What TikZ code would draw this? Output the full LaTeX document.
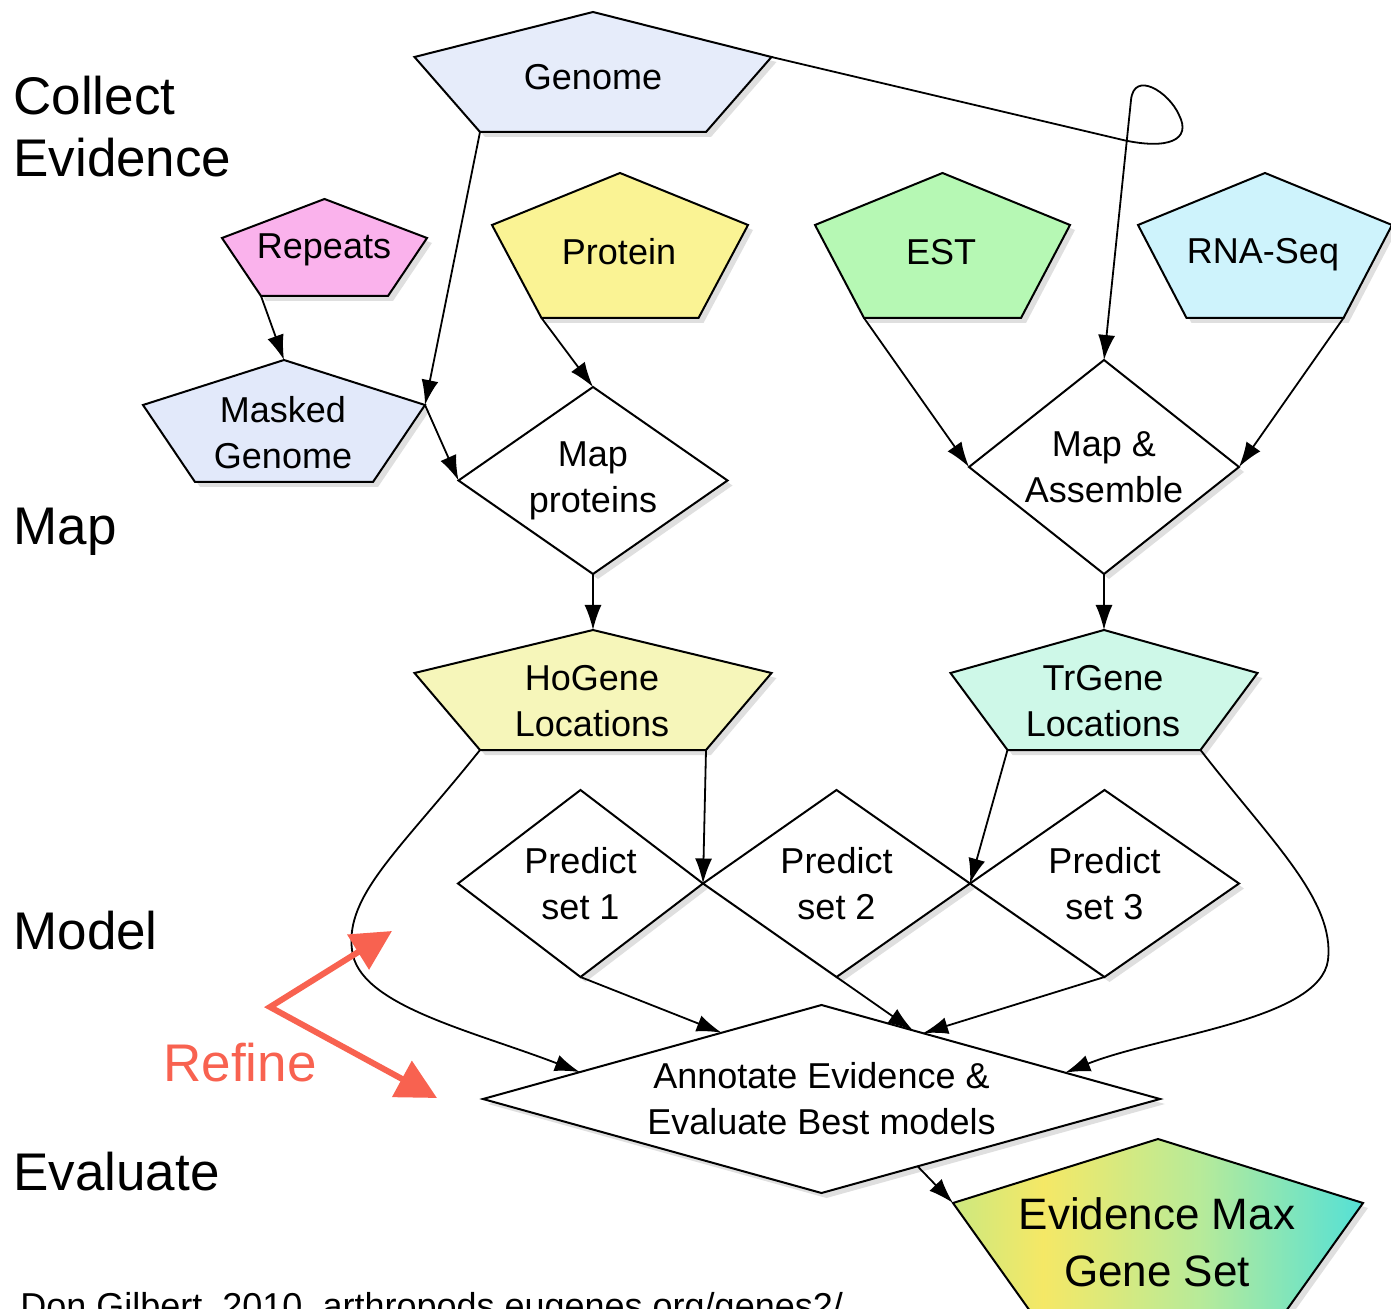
\documentclass[tikz,border=0pt]{standalone}
\usepackage{fontspec}
\setmainfont{Liberation Sans}
\usetikzlibrary{shapes.geometric,arrows.meta,calc,shadows}

\definecolor{genomeblue}{RGB}{230,236,250}
\definecolor{maskedblue}{RGB}{226,233,250}
\definecolor{repeatspink}{RGB}{250,178,236}
\definecolor{proteinyellow}{RGB}{250,243,148}
\definecolor{estgreen}{RGB}{182,248,180}
\definecolor{rnacyan}{RGB}{206,243,252}
\definecolor{hogeneyellow}{RGB}{246,246,186}
\definecolor{trgenemint}{RGB}{206,248,232}
\definecolor{refinered}{RGB}{248,98,80}

\pgfdeclarehorizontalshading{evmaxshade}{100bp}{rgb(0bp)=(0.80,0.91,0.50); rgb(25bp)=(0.80,0.91,0.50); rgb(36bp)=(0.96,0.91,0.40); rgb(55bp)=(0.72,0.92,0.60); rgb(75bp)=(0.33,0.88,0.84); rgb(100bp)=(0.33,0.88,0.84)}

\tikzset{PENT/.style={draw,line width=1pt,line join=miter,drop shadow={shadow xshift=2.5pt,shadow yshift=-2.5pt,opacity=0.25}}}
\tikzset{LABEL/.style={align=center,font=\fontsize{18}{23}\selectfont,inner sep=0pt}}
\tikzset{DECIDE/.style={diamond,draw,line width=1pt,fill=white,inner sep=0pt,outer sep=0pt,align=center,font=\fontsize{18}{23}\selectfont,drop shadow={shadow xshift=2.5pt,shadow yshift=-2.5pt,opacity=0.25}}}
\tikzset{ARROW/.style={line width=0.9pt,-{Latex[length=12.5pt,width=8.5pt]}}}
\tikzset{STAGE/.style={anchor=base west,inner sep=0pt,font=\fontsize{26.5}{31}\selectfont}}
\tikzset{REFINE/.style={refinered,line width=3pt,{Triangle[length=20pt,width=20pt]}-{Triangle[length=20pt,width=20pt]}}}

% name, fill, centre x, top y, shoulder y, shoulder half width, base y, base half width
\newcommand{\pentshape}[8]{%
  \coordinate (c_#1_t) at (#3,#4);
  \coordinate (c_#1_l) at ({#3-#6},#5);
  \coordinate (c_#1_r) at ({#3+#6},#5);
  \coordinate (c_#1_bl) at ({#3-#8},#7);
  \coordinate (c_#1_br) at ({#3+#8},#7);
  \filldraw[PENT,#2] (c_#1_t) -- (c_#1_r) -- (c_#1_br) -- (c_#1_bl) -- (c_#1_l) -- cycle;}

\begin{document}
\begin{tikzpicture}[x=0.5pt,y=-0.5pt]

\clip (0,0) rectangle (1391,1309);

% stages
\node[STAGE] (n_collect) at (13,115) {Collect};
\node[STAGE] (n_evidence) at (13,177) {Evidence};
\node[STAGE] (n_map) at (13,545) {Map};
\node[STAGE] (n_model) at (13,949) {Model};
\node[STAGE] (n_evaluate) at (13,1190) {Evaluate};

% inputs
\pentshape{genome}{fill=genomeblue}{593}{12}{57}{178.5}{132}{113}
\node[LABEL] (n_genome) at (593,77) {Genome};
\pentshape{repeats}{fill=repeatspink}{324.5}{199}{238}{102.5}{296}{63.5}
\node[LABEL] (n_repeats) at (324,250) {Repeats};
\pentshape{protein}{fill=proteinyellow}{620}{173}{225}{128}{318}{78.5}
\node[LABEL] (n_protein) at (619,252) {Protein};
\pentshape{est}{fill=estgreen}{942.5}{173}{225}{127.5}{318}{78.5}
\node[LABEL] (n_est) at (941,252) {EST};
\pentshape{rnaseq}{fill=rnacyan}{1265}{173}{225}{127}{318}{78.5}
\node[LABEL] (n_rnaseq) at (1263,255) {RNA-Seq};
\pentshape{masked}{fill=maskedblue}{284}{360}{405}{141}{482}{89}
\node[LABEL] (n_masked) at (283,433) {Masked\\Genome};

% mapping
\node[DECIDE, minimum width=134.5pt, minimum height=93.5pt, aspect=1.44] (n_mapprot) at (593,480.5) {Map\\proteins};
\node[DECIDE, minimum width=135pt, minimum height=107pt, aspect=1.26] (n_mapasm) at (1104,467) {Map \&\\Assemble};

\pentshape{hogene}{fill=hogeneyellow}{593}{630}{673}{178.5}{750}{113}
\node[LABEL] (n_hogene) at (592,701) {HoGene\\Locations};
\pentshape{trgene}{fill=trgenemint}{1104}{630}{673}{153.5}{750}{96.5}
\node[LABEL] (n_trgene) at (1103,701) {TrGene\\Locations};

% models
\node[DECIDE, minimum width=122.5pt, minimum height=93.5pt, aspect=1.31] (n_pred1) at (580.5,883.5) {Predict\\set 1};
\node[DECIDE, minimum width=133.5pt, minimum height=93.5pt, aspect=1.31] (n_pred2) at (836.5,883.5) {Predict\\set 2};
\node[DECIDE, minimum width=134.5pt, minimum height=93.5pt, aspect=1.31] (n_pred3) at (1104.5,883.5) {Predict\\set 3};

% evaluation
\node[DECIDE, minimum width=338.5pt, minimum height=94pt, aspect=3.6] (n_annot) at (821.5,1099) {Annotate Evidence \&\\Evaluate Best models};
\pentshape{evmax}{shade,shading=evmaxshade}{1158}{1139}{1203}{205}{1311}{128}
\node[LABEL, font=\fontsize{22}{28.5}\selectfont] (n_evmax) at (1157,1242) {Evidence Max\\Gene Set};

\coordinate (c_annot_in1) at ($(n_annot.west)!0.286!(n_annot.north)$);
\coordinate (c_annot_in2) at ($(n_annot.west)!0.705!(n_annot.north)$);
\coordinate (c_annot_in3) at ($(n_annot.north)!0.27!(n_annot.east)$);
\coordinate (c_annot_in4) at ($(n_annot.north)!0.30!(n_annot.east)$);
\coordinate (c_annot_in5) at ($(n_annot.east)!0.28!(n_annot.north)$);
\coordinate (c_annot_out) at ($(n_annot.east)!0.716!(n_annot.south)$);

% connectors
\draw[ARROW] (c_genome_bl) -- (c_masked_r);
\draw[ARROW] (c_repeats_bl) -- (c_masked_t);
\draw[ARROW] (c_masked_r) -- (n_mapprot.west);
\draw[ARROW] (c_protein_bl) -- (n_mapprot.north);
\draw[ARROW] (c_genome_r) -- (1123,140) .. controls (1168,150) and (1192,140) .. (1179,115) .. controls (1169,92) and (1134,70) .. (1131,100) -- (n_mapasm.north);
\draw[ARROW] (c_est_bl) -- (n_mapasm.west);
\draw[ARROW] (c_rnaseq_br) -- (n_mapasm.east);
\draw[ARROW] (n_mapprot.south) -- (c_hogene_t);
\draw[ARROW] (n_mapasm.south) -- (c_trgene_t);
\draw[ARROW] (c_hogene_br) -- (n_pred1.east);
\draw[ARROW] (c_trgene_bl) -- (n_pred2.east);
\draw[ARROW] (c_hogene_bl) .. controls (400,850) and (345,895) .. (352,950) .. controls (358,1005) and (470,1030) .. (c_annot_in1);
\draw[ARROW] (n_pred1.south) -- (c_annot_in2);
\draw[ARROW] (n_pred2.south) -- (c_annot_in3);
\draw[ARROW] (n_pred3.south) -- (c_annot_in4);
\draw[ARROW] (c_trgene_br) .. controls (1270,840) and (1335,900) .. (1328,960) .. controls (1320,1020) and (1160,1035) .. (c_annot_in5);
\draw[ARROW] (c_annot_out) -- (c_evmax_l);

% refine
\coordinate (c_refine_up) at (392,931);
\coordinate (c_refine_mid) at (270,1007);
\coordinate (c_refine_dn) at (437,1098);
\draw[REFINE] (c_refine_up) -- (c_refine_mid) -- (c_refine_dn);
\node[STAGE, text=refinered] (n_refine) at (163,1081) {Refine};

\node[anchor=base west, inner sep=0pt, font=\fontsize{18}{22}\selectfont] (n_credit) at (20,1318) {Don Gilbert, 2010, arthropods.eugenes.org/genes2/};

\end{tikzpicture}
\end{document}
